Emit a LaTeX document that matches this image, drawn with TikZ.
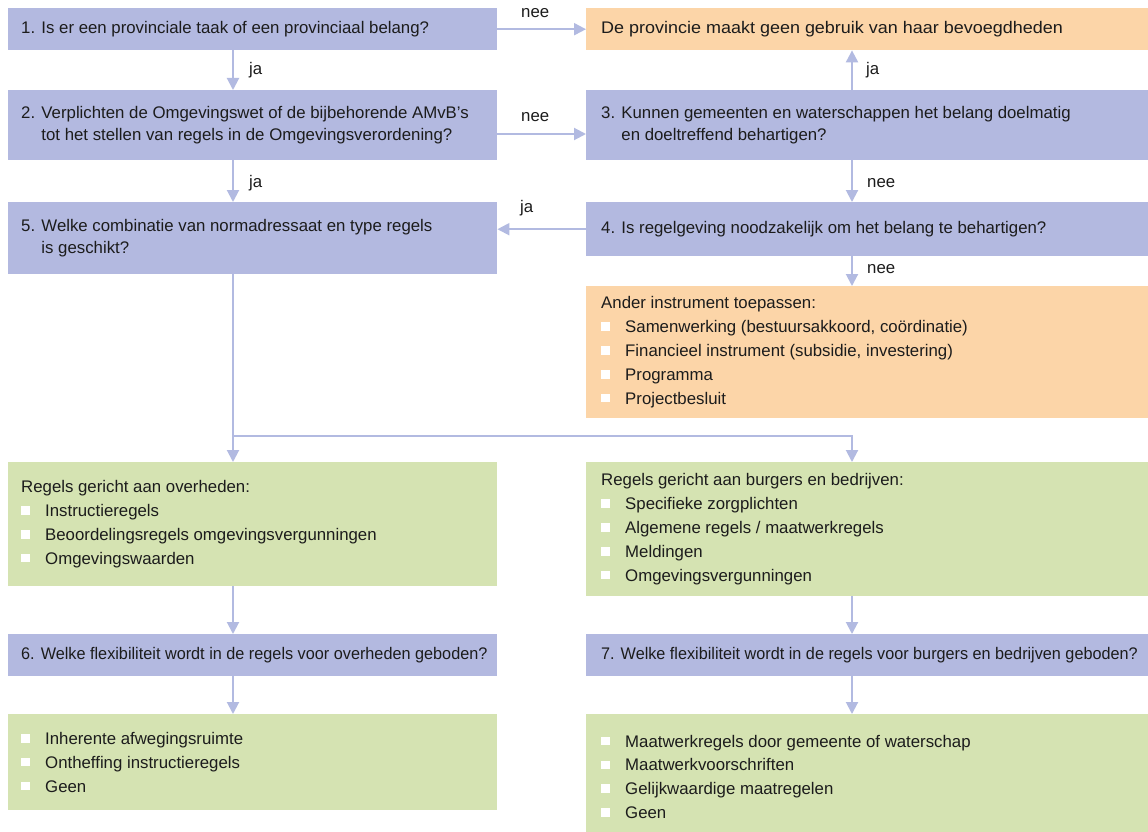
\documentclass[tikz,border=0pt]{standalone}
\usepackage{graphicx}
\usepackage{fontspec}
\setmainfont{Liberation Sans}
\usetikzlibrary{arrows.meta}
\definecolor{qblue}{RGB}{179,185,224}
\definecolor{qorange}{RGB}{252,213,168}
\definecolor{qgreen}{RGB}{213,227,178}
\definecolor{qline}{RGB}{178,186,225}
\definecolor{qtext}{RGB}{28,28,28}
\newcommand{\bul}{\makebox[24pt][l]{\textcolor{white}{\rule[1.8pt]{8.5pt}{8.5pt}}}}
\begin{document}
\begin{tikzpicture}[x=1pt,y=-1pt,
  boxbase/.style={rectangle, draw=none, inner sep=0pt, anchor=north west},
  qbox/.style={boxbase, fill=qblue},
  obox/.style={boxbase, fill=qorange},
  gbox/.style={boxbase, fill=qgreen},
  txt/.style={anchor=west, inner sep=0pt, align=left, text=qtext, font=\fontsize{16.8}{22}\selectfont},
  ltxt/.style={txt, font=\fontsize{16.8}{23.8}\selectfont},
  lbl/.style={anchor=base west, inner sep=0pt, text=qtext, font=\fontsize{16.8}{20}\selectfont},
  arr/.style={draw=qline, line width=2pt, -{Triangle[length=12pt,width=12pt]}}]
\fill[white] (0,0) rectangle (1148,832);
\useasboundingbox (0,0) rectangle (1148,832);

% boxes
\node[qbox, minimum width=489pt, minimum height=42pt] (b1) at (8,8) {};
\node[obox, minimum width=600pt, minimum height=42pt] (o1) at (586,8) {};
\node[qbox, minimum width=489pt, minimum height=70pt] (b2) at (8,90) {};
\node[qbox, minimum width=600pt, minimum height=70pt] (b3) at (586,90) {};
\node[qbox, minimum width=489pt, minimum height=72pt] (b5) at (8,202) {};
\node[qbox, minimum width=600pt, minimum height=54pt] (b4) at (586,202) {};
\node[obox, minimum width=600pt, minimum height=132pt] (o2) at (586,286) {};
\node[gbox, minimum width=489pt, minimum height=124pt] (g1) at (8,462) {};
\node[gbox, minimum width=600pt, minimum height=134pt] (g2) at (586,462) {};
\node[qbox, minimum width=489pt, minimum height=42pt] (b6) at (8,634) {};
\node[qbox, minimum width=600pt, minimum height=42pt] (b7) at (586,634) {};
\node[gbox, minimum width=489pt, minimum height=96pt] (g3) at (8,714) {};
\node[gbox, minimum width=600pt, minimum height=125pt] (g4) at (586,714) {};

% texts
\node[txt] (t1) at ([xshift=13pt]b1.west) {1. Is er een provinciale taak of een provinciaal belang?};
\node[txt] (to1) at ([xshift=15pt]o1.west) {\scalebox{1.07}[1]{De provincie maakt geen gebruik van haar bevoegdheden}};
\node[txt] (t2) at ([xshift=13pt]b2.west) {2. Verplichten de Omgevingswet of de bijbehorende AMvB's\\\phantom{2. }tot het stellen van regels in de Omgevingsverordening?};
\node[txt] (t3) at ([xshift=15pt]b3.west) {3. Kunnen gemeenten en waterschappen het belang doelmatig\\\phantom{3. }en doeltreffend behartigen?};
\node[txt] (t5) at ([xshift=13pt]b5.west) {5. Welke combinatie van normadressaat en type regels\\\phantom{5. }is geschikt?};
\node[txt] (t4) at ([xshift=15pt]b4.west) {4. Is regelgeving noodzakelijk om het belang te behartigen?};
\node[ltxt] (to2) at ([xshift=15pt]o2.west) {Ander instrument toepassen:\\\bul Samenwerking (bestuursakkoord, coördinatie)\\\bul Financieel instrument (subsidie, investering)\\\bul Programma\\\bul Projectbesluit};
\node[ltxt] (tg1) at ([xshift=13pt]g1.west) {Regels gericht aan overheden:\\\bul Instructieregels\\\bul Beoordelingsregels omgevingsvergunningen\\\bul Omgevingswaarden};
\node[ltxt] (tg2) at ([xshift=15pt]g2.west) {Regels gericht aan burgers en bedrijven:\\\bul Specifieke zorgplichten\\\bul Algemene regels / maatwerkregels\\\bul Meldingen\\\bul Omgevingsvergunningen};
\node[txt] (t6) at ([xshift=13pt]b6.west) {\scalebox{0.967}[1]{6. Welke flexibiliteit wordt in de regels voor overheden geboden?}};
\node[txt] (t7) at ([xshift=15pt]b7.west) {\scalebox{0.965}[1]{7. Welke flexibiliteit wordt in de regels voor burgers en bedrijven geboden?}};
\node[ltxt] (tg3) at ([xshift=13pt]g3.west) {\bul Inherente afwegingsruimte\\\bul Ontheffing instructieregels\\\bul Geen};
\node[ltxt] (tg4) at ([xshift=15pt]g4.west) {\bul Maatwerkregels door gemeente of waterschap\\\bul Maatwerkvoorschriften\\\bul Gelijkwaardige maatregelen\\\bul Geen};

% connectors
\coordinate (xL) at (233,0);
\coordinate (xR) at (852,0);
\coordinate (y23) at (0,134);
\coordinate (ysplit) at (0,436);
\draw[arr] (b1.east) -- (o1.west);
\draw[arr] (b1.south -| xL) -- (b2.north -| xL);
\draw[arr] (b2.east |- y23) -- (b3.west |- y23);
\draw[arr] (b3.north -| xR) -- (o1.south -| xR);
\draw[arr] (b3.south -| xR) -- (b4.north -| xR);
\draw[arr] (b2.south -| xL) -- (b5.north -| xL);
\draw[arr] (b4.west) -- (b4.west -| b5.east);
\draw[arr] (b4.south -| xR) -- (o2.north -| xR);
\draw[arr] (b5.south -| xL) -- (g1.north -| xL);
\draw[arr] (xL |- ysplit) -- (xR |- ysplit) -- (g2.north -| xR);
\draw[arr] (g1.south -| xL) -- (b6.north -| xL);
\draw[arr] (g2.south -| xR) -- (b7.north -| xR);
\draw[arr] (b6.south -| xL) -- (g3.north -| xL);
\draw[arr] (b7.south -| xR) -- (g4.north -| xR);

% labels
\node[lbl] (l1) at (521,17.5) {nee};
\node[lbl] (l2) at (521,122) {nee};
\node[lbl] (l3) at (520,212) {ja};
\node[lbl] (l4) at (249,75) {ja};
\node[lbl] (l5) at (249,187) {ja};
\node[lbl] (l6) at (866,75) {ja};
\node[lbl] (l7) at (867,187) {nee};
\node[lbl] (l8) at (867,273) {nee};
\end{tikzpicture}
\end{document}
